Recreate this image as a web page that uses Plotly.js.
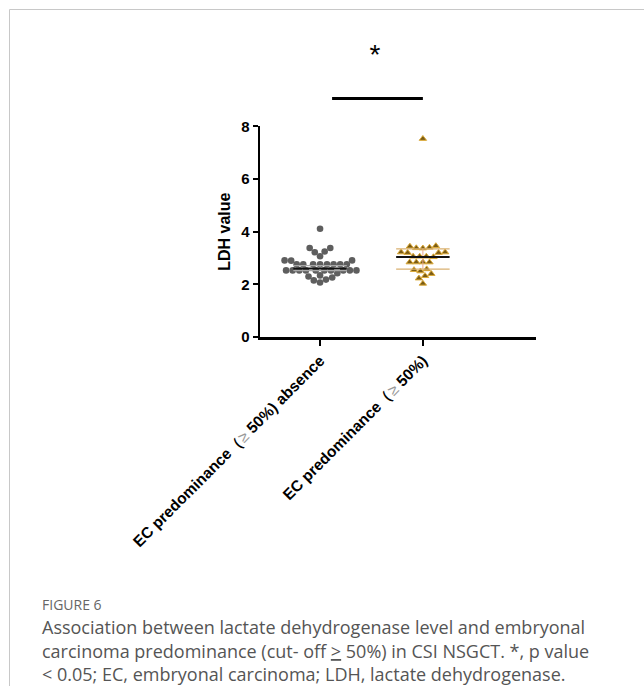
<!DOCTYPE html>
<html><head><meta charset="utf-8">
<script src="https://cdn.plot.ly/plotly-3.0.1.min.js"></script>
<style>body{margin:0;background:#fff}#chart{width:644px;height:686px}</style>
</head><body><div id="chart"></div>
<script>
// ---- data ----
const categories = ['EC predominance（≥ 50%) absence', 'EC predominance（≥ 50%)'];
const tickLabels = [
  'EC predominance（<span style="color:#9a9a9a;font-weight:normal">≥</span> 50%) absence',
  'EC predominance（<span style="color:#9a9a9a;font-weight:normal">≥</span> 50%)'
];
const absenceValues = [4.11, 3.38, 3.38, 3.25, 3.22, 3.07, 2.91, 2.90, 2.91,
  2.76, 2.76, 2.76, 2.76, 2.76, 2.76, 2.76, 2.76,
  2.53, 2.53, 2.53, 2.53, 2.53, 2.53, 2.53, 2.53, 2.53, 2.53,
  2.42, 2.34, 2.30, 2.26, 2.18, 2.15, 2.07];
const predominanceValues = [7.53,
  3.44, 3.40, 3.38, 3.46, 3.37,
  3.22, 3.20, 3.20, 3.22,
  3.06, 3.06, 3.06, 3.04,
  2.84, 2.84, 2.84, 2.84,
  2.58, 2.55, 2.50,
  2.40, 2.32, 2.23, 2.03];
const centerLine = [2.60, 3.04];
const upperLine = [2.71, 3.35];
const lowerLine = [2.52, 2.58];
const sigBracketX = [0.117, 1.0];
const sigBracketY = [9.06, 9.06];
const sigStarX = [0.535];
const sigStarY = [10.62];
const sigLabel = ['*'];
const yTicks = [0, 2, 4, 6, 8];
const captionHead = 'FIGURE 6';
const captionLines = [
  'Association between lactate dehydrogenase level and embryonal',
  'carcinoma predominance (cut- off <span style="text-decoration:underline">&gt;</span> 50%) in CSI NSGCT. *, p value',
  '&lt; 0.05; EC, embryonal carcinoma; LDH, lactate dehydrogenase.'
];

// ---- layout geometry ----
const W = 644, H = 686;
const M = {l: 260, r: 108, t: 20, b: 349};
const plotW = W - M.l - M.r, plotH = H - M.t - M.b;
const xRange = [-0.584, 2.1];
const mainFrac = 210.6 / plotH;
const pxPerY = 210.6 / 8;
const pxPerX = plotW / (xRange[1] - xRange[0]);
const px2x = p => (p - M.l) / plotW;
const px2y = p => (H - M.b - p) / plotH;

function swarm(vals, diam) {
  const order = vals.map((v, i) => i).sort((a, b) => vals[a] - vals[b]);
  const placed = [], offs = new Array(vals.length);
  for (const i of order) {
    const y = vals[i] * pxPerY;
    const near = placed.filter(p => Math.abs(p.y - y) < diam);
    const cands = [0];
    near.forEach(p => { const dx = Math.sqrt(diam * diam - (p.y - y) ** 2); cands.push(p.x + dx, p.x - dx); });
    cands.sort((a, b) => Math.abs(a) - Math.abs(b) || a - b);
    const x = cands.find(c => near.every(p => (p.x - c) ** 2 + (p.y - y) ** 2 >= diam * diam - 1e-6));
    placed.push({x, y});
    offs[i] = x / pxPerX;
  }
  return offs;
}
const off0 = swarm(absenceValues, 6.6);
const off1 = swarm(predominanceValues, 6.6);

const halfW = 0.26;
const traces = [
  {x: absenceValues.map((v, i) => 0 + off0[i]), y: absenceValues, type: 'scatter', mode: 'markers',
   marker: {symbol: 'circle', size: 6.6, color: '#5e5e5e'}, hoverinfo: 'y', cliponaxis: false},
  {x: predominanceValues.map((v, i) => 1 + off1[i]), y: predominanceValues, type: 'scatter', mode: 'markers',
   marker: {symbol: 'triangle-up', size: 6.4, color: '#7a5c16', line: {color: '#dcaa38', width: 1}}, hoverinfo: 'y', cliponaxis: false}
];
const errColors = ['#a8a8a8', '#d9b070'];
[0, 1].forEach(c => {
  traces.push({x: [c, c], y: [lowerLine[c], upperLine[c]], mode: 'lines', line: {color: c ? '#e8a890' : '#bbbbbb', width: 1}, hoverinfo: 'skip'});
  traces.push({x: [c - halfW, c + halfW], y: [upperLine[c], upperLine[c]], mode: 'lines', line: {color: errColors[c], width: 1.3}, hoverinfo: 'skip'});
  traces.push({x: [c - halfW, c + halfW], y: [lowerLine[c], lowerLine[c]], mode: 'lines', line: {color: errColors[c], width: 1.3}, hoverinfo: 'skip'});
  traces.push({x: [c - halfW, c + halfW], y: [centerLine[c], centerLine[c]], mode: 'lines', line: {color: '#111', width: 2}, hoverinfo: 'skip'});
});
traces.push({x: sigBracketX, y: sigBracketY, xaxis: 'x2', yaxis: 'y2', mode: 'lines', line: {color: '#000', width: 3}, hoverinfo: 'skip'});
traces.push({x: sigStarX, y: sigStarY, xaxis: 'x2', yaxis: 'y2', mode: 'text', text: sigLabel,
  textfont: {family: 'Liberation Sans, Arial', size: 28, color: '#000'}, textposition: 'middle center', hoverinfo: 'skip'});

const boldFont = {family: 'Liberation Sans, Arial, sans-serif', size: 15.5, color: '#000', weight: 'bold'};
const annotations = [
  {xref: 'paper', yref: 'paper', x: px2x(40), y: px2y(604), xanchor: 'left', yanchor: 'middle', showarrow: false,
   text: captionHead, font: {family: 'Open Sans, sans-serif', size: 14, color: '#666'}}
];
const lineY = [627, 651, 674];
captionLines.forEach((t, i) => annotations.push({xref: 'paper', yref: 'paper', x: px2x(40), y: px2y(lineY[i]),
  xanchor: 'left', yanchor: 'middle', showarrow: false, align: 'left', text: t,
  font: {family: 'Open Sans, sans-serif', size: 18, color: '#555'}}));

const layout = {
  width: W, height: H, margin: M, showlegend: false,
  paper_bgcolor: '#fff', plot_bgcolor: 'rgba(0,0,0,0)',
  xaxis: {range: xRange, tickvals: [0, 1], ticktext: tickLabels, tickangle: -45, ticks: 'outside', ticklen: 6, tickwidth: 2,
    tickcolor: '#000', showline: true, linewidth: 2.5, linecolor: '#000', zeroline: false, showgrid: false,
    tickfont: boldFont, anchor: 'y', automargin: false},
  yaxis: {domain: [0, mainFrac], range: [0, 8], tickvals: yTicks, ticks: 'outside', ticklen: 5, tickwidth: 2, tickcolor: '#000',
    showline: true, linewidth: 2.5, linecolor: '#000', zeroline: false, showgrid: false,
    tickfont: Object.assign({}, boldFont, {size: 15}),
    title: {text: 'LDH value', font: {family: 'Liberation Sans, Arial, sans-serif', size: 16, color: '#000', weight: 'bold'}, standoff: 7},
    automargin: false},
  xaxis2: {matches: 'x', anchor: 'y2', visible: false},
  yaxis2: {domain: [mainFrac, 1], range: [8, 8 + (plotH - 210.6) / pxPerY], anchor: 'x2', visible: false},
  shapes: [
    {type: 'line', xref: 'paper', yref: 'paper', x0: px2x(9.5), x1: px2x(9.5), y0: px2y(9.5), y1: px2y(H), line: {color: '#c8c8c8', width: 1}},
    {type: 'line', xref: 'paper', yref: 'paper', x0: px2x(9.5), x1: px2x(W), y0: px2y(9.5), y1: px2y(9.5), line: {color: '#c8c8c8', width: 1}}
  ],
  annotations
};
Plotly.newPlot('chart', traces, layout, {displayModeBar: false, staticPlot: true});
</script></body></html>
